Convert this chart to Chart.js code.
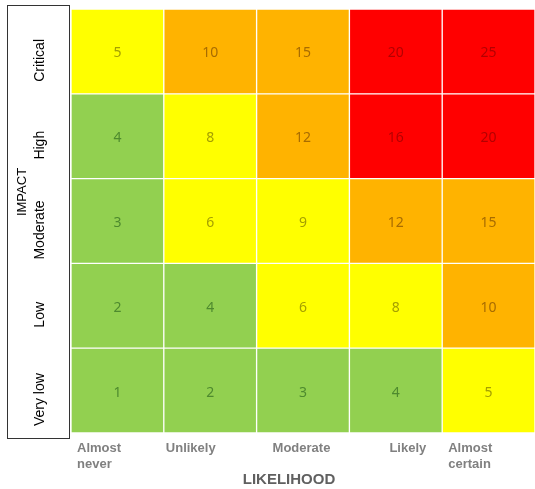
<!DOCTYPE html>
<html>
<head>
<meta charset="utf-8">
<script src="https://cdn.jsdelivr.net/npm/chart.js@4.4.0/dist/chart.umd.min.js"></script>
<style>
  body { margin: 0; background: #fff; }
  #wrap { width: 535px; height: 489px; }
</style>
</head>
<body>
<div id="wrap"><canvas id="matrix" width="535" height="489"></canvas></div>
<script>
// Likelihood along the bottom, impact up the side (bottom row first)
const likelihood = ['Almost never', 'Unlikely', 'Moderate', 'Likely', 'Almost certain'];
const impact = ['Very low', 'Low', 'Moderate', 'High', 'Critical'];

// Score shown in each cell, one array per impact row
const veryLowScores = [1, 2, 3, 4, 5];
const lowScores = [2, 4, 6, 8, 10];
const moderateScores = [3, 6, 9, 12, 15];
const highScores = [4, 8, 12, 16, 20];
const criticalScores = [5, 10, 15, 20, 25];

// Risk level of each cell: G = green, Y = yellow, O = orange, R = red
const veryLowLevels = ['G', 'G', 'G', 'G', 'Y'];
const lowLevels = ['G', 'G', 'Y', 'Y', 'O'];
const moderateLevels = ['G', 'Y', 'Y', 'O', 'O'];
const highLevels = ['G', 'Y', 'O', 'R', 'R'];
const criticalLevels = ['Y', 'O', 'O', 'R', 'R'];

const scores = [veryLowScores, lowScores, moderateScores, highScores, criticalScores];
const levels = [veryLowLevels, lowLevels, moderateLevels, highLevels, criticalLevels];

const fillColors = { G: '#92d050', Y: '#ffff00', O: '#ffb300', R: '#ff0000' };
const textColors = { G: '#4e8a2e', Y: '#a5a000', O: '#a86c00', R: '#b40000' };

// each impact row is one stacked dataset, every cell one unit high
const datasets = impact.map((name, i) => ({
  label: name,
  data: likelihood.map(() => 1),
  backgroundColor: levels[i].map(l => fillColors[l]),
  borderColor: 'rgba(255,255,255,0.3)',
  borderWidth: 1,
  borderSkipped: false,
  barPercentage: 1,
  categoryPercentage: 1
}));

// white box with the impact labels, and the likelihood labels below
const framePlugin = {
  id: 'frame',
  beforeDraw(chart) {
    const ctx = chart.ctx;
    ctx.save();
    ctx.fillStyle = '#fff';
    ctx.fillRect(0, 0, chart.width, chart.height);
    ctx.strokeStyle = '#333';
    ctx.lineWidth = 1;
    ctx.strokeRect(7.5, 5.5, 62, 433);
    ctx.restore();
  },
  afterDraw(chart) {
    const ctx = chart.ctx;
    const x = chart.scales.x;
    const y = chart.scales.y;
    ctx.save();

    // impact row labels
    ctx.fillStyle = '#000';
    ctx.font = '14px "Liberation Sans", Arial, sans-serif';
    ctx.textAlign = 'center';
    ctx.textBaseline = 'middle';
    impact.forEach((name, i) => {
      const cy = y.getPixelForValue(i + 0.5) + 9;
      ctx.save();
      ctx.translate(40, cy);
      ctx.rotate(-Math.PI / 2);
      ctx.fillText(name, 0, 0);
      ctx.restore();
    });
    ctx.save();
    ctx.font = '13px "Liberation Sans", Arial, sans-serif';
    ctx.translate(22, 192);
    ctx.rotate(-Math.PI / 2);
    ctx.fillText('IMPACT', 0, 0);
    ctx.restore();

    // likelihood labels, left aligned inside each column
    const nudge = [6, 2, 16, 40, 6];
    const colW = (chart.chartArea.right - chart.chartArea.left) / likelihood.length;
    ctx.fillStyle = '#808080';
    ctx.font = 'bold 13px "Liberation Sans", Arial, sans-serif';
    ctx.textAlign = 'left';
    likelihood.forEach((name, j) => {
      const left = x.getPixelForValue(j) - colW / 2 + nudge[j];
      const words = name.split(' ');
      const lines = words.length > 1 && name.startsWith('Almost') ? [words[0], words.slice(1).join(' ')] : [name];
      lines.forEach((line, k) => ctx.fillText(line, left, 448 + k * 16));
    });

    ctx.fillStyle = '#606060';
    ctx.font = 'bold 15px "Liberation Sans", Arial, sans-serif';
    ctx.textAlign = 'center';
    ctx.fillText('LIKELIHOOD', 289, 480);
    ctx.restore();
  },
  afterDatasetsDraw(chart) {
    const ctx = chart.ctx;
    ctx.save();
    ctx.font = '14px "Noto Sans", sans-serif';
    ctx.textAlign = 'center';
    ctx.textBaseline = 'middle';
    chart.data.datasets.forEach((ds, i) => {
      chart.getDatasetMeta(i).data.forEach((bar, j) => {
        ctx.fillStyle = textColors[levels[i][j]];
        ctx.fillText(String(scores[i][j]), bar.x, (bar.y + bar.base) / 2 + 2);
      });
    });
    ctx.restore();
  }
};

new Chart(document.getElementById('matrix'), {
  type: 'bar',
  data: { labels: likelihood, datasets: datasets },
  options: {
    responsive: false,
    animation: false,
    layout: { padding: { left: 71, right: 0, top: 9, bottom: 56 } },
    plugins: { legend: { display: false }, tooltip: { enabled: false } },
    scales: {
      x: { stacked: true, display: false },
      y: { stacked: true, display: false, min: 0, max: 5 }
    }
  },
  plugins: [framePlugin]
});
</script>
</body>
</html>
